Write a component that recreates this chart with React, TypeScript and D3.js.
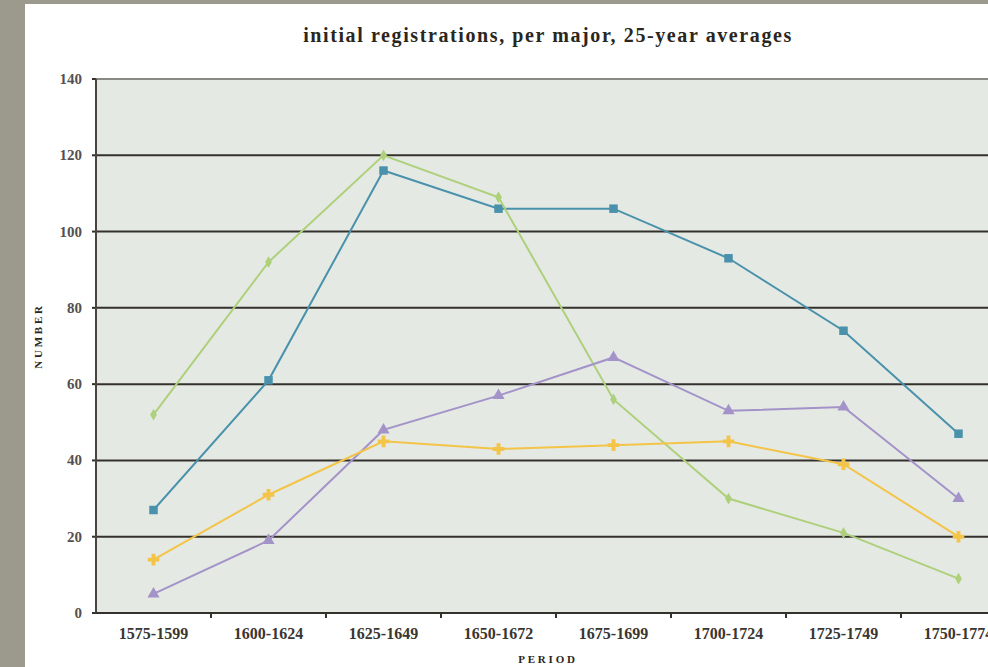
import * as d3 from 'd3'

const periods = ['1575-1599', '1600-1624', '1625-1649', '1650-1672', '1675-1699', '1700-1724', '1725-1749', '1750-1774']
const blueValues = [27, 61, 116, 106, 106, 93, 74, 47]
const greenValues = [52, 92, 120, 109, 56, 30, 21, 9]
const purpleValues = [5, 19, 48, 57, 67, 53, 54, 30]
const yellowValues = [14, 31, 45, 43, 44, 45, 39, 20]
const yTicks = [0, 20, 40, 60, 80, 100, 120, 140]

const WIDTH = 988
const HEIGHT = 667
const MARGIN = { LEFT: 96, TOP: 79, RIGHT: 1016, BOTTOM: 613 }
const SERIF = '"Liberation Serif", "DejaVu Serif", serif'

const series = [
  { key: 'blue', values: blueValues, color: '#4a91ab', symbol: d3.symbolSquare, size: 72 },
  { key: 'green', values: greenValues, color: '#aed07a', symbol: d3.symbolDiamond, size: 40 },
  { key: 'purple', values: purpleValues, color: '#a493c8', symbol: d3.symbolTriangle, size: 64 },
  { key: 'yellow', values: yellowValues, color: '#f3c447', symbol: d3.symbolCross, size: 75 },
]

export default function App() {
  const x = d3.scaleBand().domain(periods).range([MARGIN.LEFT, MARGIN.RIGHT])
  const y = d3.scaleLinear().domain([0, 140]).range([MARGIN.BOTTOM, MARGIN.TOP])
  const cx = (p: string) => (x(p) as number) + x.bandwidth() / 2

  const line = d3.line<number>()
    .x((d, i) => cx(periods[i]))
    .y((d) => y(d))

  return (
    <svg width={WIDTH} height={HEIGHT} style={{ position: 'fixed', top: 0, left: 0 }}>
      <rect x={0} y={0} width={WIDTH} height={HEIGHT} fill="#ffffff" />
      <rect x={0} y={0} width={25} height={HEIGHT} fill="#9c9a8c" />
      <rect x={0} y={0} width={WIDTH} height={4} fill="#9c9a8c" />

      <text x={548} y={42} textAnchor="middle" fontFamily={SERIF} fontWeight="bold" fontSize={20} letterSpacing={1.6} fill="#2a2620">
        initial registrations, per major, 25-year averages
      </text>

      {/* plot area */}
      <rect x={MARGIN.LEFT} y={MARGIN.TOP} width={MARGIN.RIGHT - MARGIN.LEFT} height={MARGIN.BOTTOM - MARGIN.TOP} fill="#e4e9e4" />

      {yTicks.map((t) => (
        <g key={t}>
          {t > 0 && (
            <line x1={MARGIN.LEFT} x2={MARGIN.RIGHT} y1={y(t)} y2={y(t)}
              stroke={t === 140 ? '#8a8884' : '#34302c'} strokeWidth={2} />
          )}
          <line x1={MARGIN.LEFT - 4} x2={MARGIN.LEFT} y1={y(t)} y2={y(t)} stroke="#34302c" strokeWidth={2} />
          <text x={82} y={y(t) + 5} textAnchor="end" fontFamily={SERIF} fontWeight="bold" fontSize={15} fill="#555050">
            {t}
          </text>
        </g>
      ))}

      {/* axes */}
      <line x1={MARGIN.LEFT} x2={MARGIN.LEFT} y1={MARGIN.TOP} y2={MARGIN.BOTTOM} stroke="#4a4440" strokeWidth={2} />
      <line x1={MARGIN.LEFT} x2={MARGIN.RIGHT} y1={MARGIN.BOTTOM} y2={MARGIN.BOTTOM} stroke="#34302c" strokeWidth={2} />
      {periods.map((p) => (
        <g key={p}>
          <line x1={(x(p) as number) + x.bandwidth()} x2={(x(p) as number) + x.bandwidth()}
            y1={MARGIN.BOTTOM} y2={MARGIN.BOTTOM + 5} stroke="#34302c" strokeWidth={2} />
          <text x={cx(p)} y={639} textAnchor="middle" fontFamily={SERIF} fontWeight="bold" fontSize={16} fill="#3a3632">
            {p}
          </text>
        </g>
      ))}

      {series.map((s) => (
        <g key={s.key}>
          <path d={line(s.values) || ''} fill="none" stroke={s.color} strokeWidth={2} />
          {s.values.map((v, i) => (
            <path key={i} transform={`translate(${cx(periods[i])},${y(v)})`}
              d={d3.symbol().type(s.symbol).size(s.size)() || ''} fill={s.color} />
          ))}
        </g>
      ))}

      <text x={548} y={663} textAnchor="middle" fontFamily={SERIF} fontWeight="bold" fontSize={11} letterSpacing={2.8} fill="#2a2620">
        PERIOD
      </text>
      <text transform="translate(42,336) rotate(-90)" textAnchor="middle" fontFamily={SERIF} fontWeight="bold" fontSize={11} letterSpacing={2.8} fill="#2a2620">
        NUMBER
      </text>
    </svg>
  )
}
